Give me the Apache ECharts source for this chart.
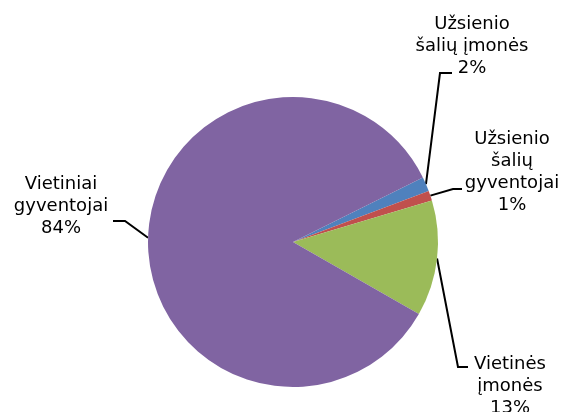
<!DOCTYPE html>
<html>
<head>
<meta charset="utf-8">
<script src="https://cdn.jsdelivr.net/npm/echarts@6/dist/echarts.min.js"></script>
<style>html,body{margin:0;padding:0;background:#fff}#c{width:563px;height:412px}</style>
</head>
<body>
<div id="c"></div>
<script>
const categories = ['Užsienio šalių įmonės', 'Užsienio šalių gyventojai', 'Vietinės įmonės', 'Vietiniai gyventojai'];
const labelTexts = ['Užsienio\nšalių įmonės', 'Užsienio\nšalių\ngyventojai', 'Vietinės\nįmonės', 'Vietiniai\ngyventojai'];
const values = [1.6, 1.1, 12.9, 84.4];
const colors = ['#4F81BD', '#C0504D', '#9BBB59', '#8064A2'];

// label placement (center x, center y) and leader-line elbow points
const labelPos = [[472, 46], [512, 172], [510, 386], [61, 206]];
const elbows = [
  [[440, 73], [452, 73]],
  [[453, 189], [462, 189]],
  [[458, 367], [468, 367]],
  [[125, 221], [113, 221]]
];

const chart = echarts.init(document.getElementById('c'), null, {renderer: 'canvas'});
chart.setOption({
  animation: false,
  backgroundColor: '#fff',
  series: [{
    type: 'pie',
    center: [293, 242],
    radius: 145,
    startAngle: 26.4,
    clockwise: true,
    percentPrecision: 0,
    avoidLabelOverlap: false,
    data: categories.map((c, i) => ({name: c, value: values[i], itemStyle: {color: colors[i]}})),
    itemStyle: {borderWidth: 0},
    label: {
      show: true,
      position: 'outside',
      formatter: p => labelTexts[p.dataIndex] + '\n' + p.percent + '%',
      fontFamily: 'DejaVu Sans, Verdana, sans-serif',
      fontSize: 18,
      lineHeight: 22,
      color: '#000',
      align: 'center'
    },
    labelLine: {
      show: true,
      length: 5,
      length2: 5,
      smooth: false,
      lineStyle: {color: '#000', width: 2}
    },
    emphasis: {disabled: true},
    labelLayout: function (params) {
      const i = params.dataIndex;
      const start = params.labelLinePoints ? params.labelLinePoints[0] : elbows[i][0];
      return {
        x: labelPos[i][0],
        y: labelPos[i][1],
        align: 'center',
        verticalAlign: 'middle',
        labelLinePoints: [start, elbows[i][0], elbows[i][1]]
      };
    }
  }]
});
</script>
</body>
</html>
